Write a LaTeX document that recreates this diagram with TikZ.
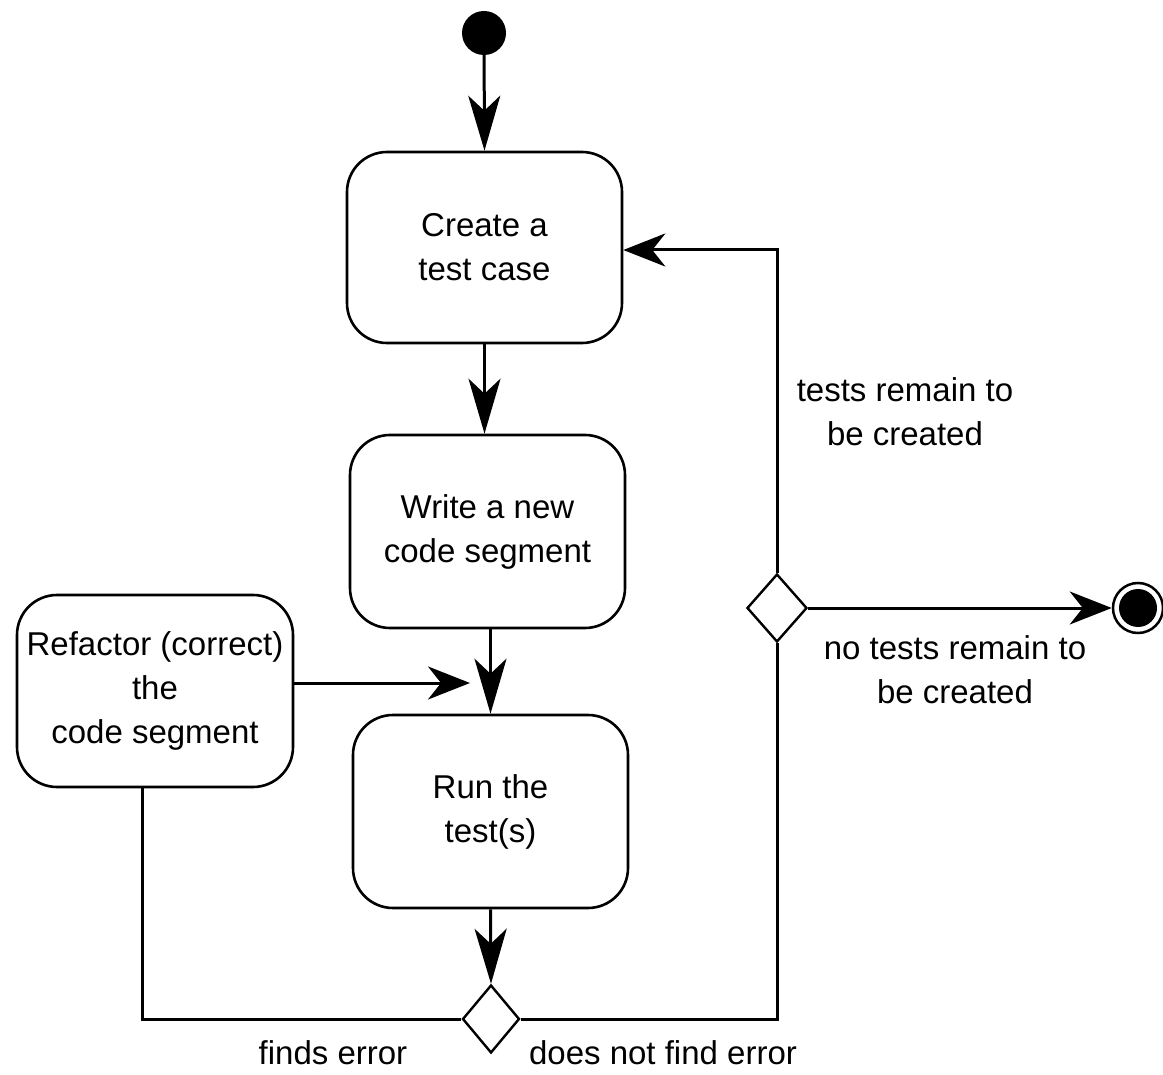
\documentclass[tikz,border=0pt]{standalone}
\usepackage{fontspec}
\setmainfont{Liberation Sans}
\usetikzlibrary{arrows.meta,shapes.geometric}
\begin{document}
\begin{tikzpicture}[x=1pt,y=-1pt,
  every node/.style={font=\fontsize{33}{44}\selectfont},
  act/.style={draw, rounded corners=40pt, line width=2.6pt, align=center, inner sep=0pt},
  dec/.style={draw, diamond, line width=2.4pt, inner sep=0pt},
  conn/.style={line width=3pt},
  varr/.style={conn, -{Stealth[length=55pt,width=32pt,inset=15pt]}},
  harr/.style={conn, -{Stealth[length=42pt,width=33pt,inset=13pt]}},
  lbl/.style={align=center, inner sep=0pt}]
\useasboundingbox (0,0) rectangle (1163,1075);

\node[circle, fill=black, minimum size=44pt, inner sep=0pt] (start) at (484,33) {};
\node[act, minimum width=275pt, minimum height=191pt] (create) at (484.5,247.5) {Create a\\test case};
\node[act, minimum width=275pt, minimum height=193pt] (write) at (487.5,531.5) {Write a new\\code segment};
\node[act, minimum width=275pt, minimum height=193pt] (run) at (490.5,811.5) {Run the\\test(s)};
\node[act, minimum width=276pt, minimum height=192pt] (refactor) at (155,691) {Refactor (correct)\\the\\code segment};
\node[dec, minimum width=57pt, minimum height=68pt] (d1) at (491,1019) {};
\node[dec, minimum width=60pt, minimum height=68pt] (d2) at (777,608) {};
\node[circle, draw, line width=2.5pt, minimum size=50pt, inner sep=0pt] (end) at (1138,608) {};
\node[circle, fill=black, minimum size=38pt, inner sep=0pt] (endin) at (end.center) {};

\coordinate (rin) at (470,683);
\coordinate (c1) at (142,1019);
\coordinate (c2) at (777,250);

\draw[varr] (start) -- (create.north);
\draw[varr] (create.south) -- (create.south |- write.north);
\draw[varr] (run.north |- write.south) -- (run.north);
\draw[harr] (refactor.east |- rin) -- (rin);
\draw[varr] (run.south) -- (d1.north);
\draw[conn] (d1.west) -- (c1) -- (c1 |- refactor.south);
\draw[conn] (d1.east) -- (d1.east -| d2.south) -- (d2.south);
\draw[harr] (d2.north) -- (c2) -- (c2 -| create.east);
\draw[harr] (d2.east) -- (end.west);

\node[lbl] (l1) at (905,412) {tests remain to\\be created};
\node[lbl] (l2) at (955,670) {no tests remain to\\be created};
\node[lbl] (l3) at (333,1053) {finds error};
\node[lbl] (l4) at (663,1053) {does not find error};
\end{tikzpicture}
\end{document}
